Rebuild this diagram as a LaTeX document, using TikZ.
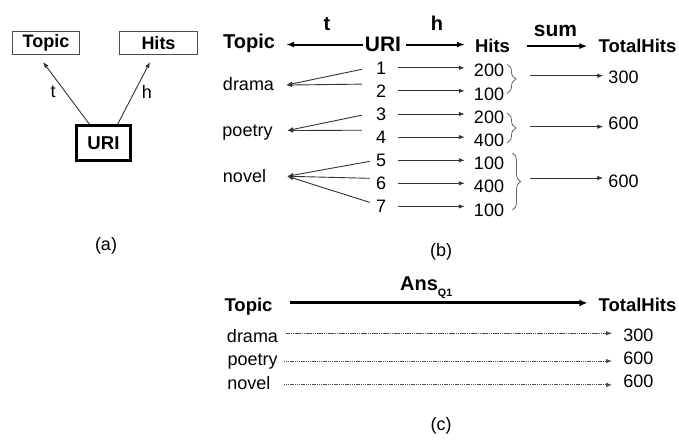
\documentclass[tikz,border=0pt]{standalone}
\usepackage{fontspec}
\setmainfont{Liberation Sans}
\usetikzlibrary{arrows.meta,calc,decorations.pathreplacing}

\begin{document}
\begin{tikzpicture}[x=1pt,y=-1pt,
  lbl/.style={inner sep=0pt, font=\fontsize{18}{20}\selectfont},
  hdr/.style={inner sep=0pt, font=\fontsize{18.5}{20}\selectfont\bfseries},
  bighdr/.style={inner sep=0pt, font=\fontsize{20}{22}\selectfont\bfseries},
  thin arrow/.style={draw=black!80, line width=0.9pt, -{Latex[length=6pt,width=4.5pt]}},
  bold arrow/.style={draw=black, line width=2pt, -{Latex[length=8pt,width=6pt]}},
  heavy arrow/.style={draw=black, line width=3pt, -{Latex[length=8pt,width=7pt]}},
  dotted arrow/.style={draw=black!70, line width=0.8pt, dash pattern=on 1.5pt off 0.7pt, -{Latex[length=6pt,width=4.5pt]}},
  rbrace/.style={draw=black!60, line width=0.8pt, decorate, decoration={brace, amplitude=#1}},
  attr box/.style={draw=black!70, line width=1.2pt, inner sep=0pt, font=\fontsize{18}{20}\selectfont\bfseries},
]
\useasboundingbox (0,0) rectangle (679,439);

% ---------- (a) schema ----------
\node[attr box, minimum width=66.8pt, minimum height=22.8pt] (topicA) at (46,43) {Topic};
\node[attr box, minimum width=77.8pt, minimum height=22.8pt] (hitsA) at (158.5,43) {Hits};
\node[draw=black, line width=3pt, inner sep=0pt, minimum width=54pt, minimum height=35pt,
      font=\fontsize{18.6}{20}\selectfont\bfseries] (uriA) at (103.5,143) {URI};
\draw[thin arrow] ($(uriA.north)!0.5!(uriA.north west)$) -- ($(topicA.south)+(-3,7)$);
\draw[thin arrow] ($(uriA.north)!0.5!(uriA.north east)$) -- ($(hitsA.south)+(-8.5,7)$);
\node[lbl] (tA) at (53,92) {t};
\node[lbl] (hA) at (147,92) {h};
\node[lbl] (capA) at (106,246) {(a)};

% ---------- (b) instance ----------
\node[bighdr, anchor=base] (topB) at (249,48.3) {Topic};
\node[inner sep=0pt, font=\fontsize{21}{22}\selectfont\bfseries, anchor=base] (uriB) at (383,51.7) {URI};
\node[hdr, anchor=base] (hitsB) at (492.5,52.7) {Hits};
\node[hdr, anchor=base] (totB) at (637.5,52.3) {TotalHits};
\node[bighdr, anchor=base] (tB) at (327,30) {t};
\node[bighdr, anchor=base] (hB) at (437,30.7) {h};
\node[inner sep=0pt, font=\fontsize{21}{22}\selectfont\bfseries, anchor=base] (sumB) at (555.5,36.7) {sum};

\draw[bold arrow, shorten <=2pt, shorten >=11pt] (uriB.west) -- (uriB.west -| topB.east);
\draw[bold arrow, shorten <=5pt, shorten >=10pt] (uriB.east) -- (uriB.east -| hitsB.west);
\draw[bold arrow, shorten <=17pt, shorten >=11pt] (hitsB.east) -- (hitsB.east -| totB.west);

\node[lbl, anchor=base] (drama) at (248.5,90.7) {drama};
\node[lbl, anchor=base] (poetry) at (247.5,136.7) {poetry};
\node[lbl, anchor=base] (novel) at (244.5,182.7) {novel};

\foreach \i/\y in {1/74,2/97.1,3/120.2,4/143.3,5/166.4,6/189.5,7/212.6}
  \node[lbl, anchor=base] (u\i) at (381,\y) {\i};
\foreach \i/\y/\v in {1/76.7/200,2/100/100,3/123/200,4/146/400,5/169.3/100,6/192.7/400,7/216/100}
  \node[lbl, anchor=base] (h\i) at (489,\y) {\v};

% URI -> Hits
\foreach \i in {1,...,7}
  \draw[thin arrow, shorten <=12pt, shorten >=9pt] (u\i.east) -- (u\i.east -| h\i.west);

% URI -> Topic
\coordinate (dramaTip) at ($(drama.east)+(12,0.8)$);
\coordinate (poetryTip) at ($(poetry.east)+(14.5,-2.2)$);
\coordinate (novelTip) at ($(novel.east)+(21,0)$);
\draw[thin arrow] ($(u1.west)+(-14,1.5)$) -- (dramaTip);
\draw[thin arrow] ($(u2.west)+(-14,-6.7)$) -- (dramaTip);
\draw[thin arrow] ($(u3.west)+(-14,1.2)$) -- (poetryTip);
\draw[thin arrow] ($(u4.west)+(-14,-6.9)$) -- (poetryTip);
\draw[thin arrow] ($(u5.west)+(-6,1)$) -- (novelTip);
\draw[thin arrow] ($(u6.west)+(-6,-5)$) -- (novelTip);
\draw[thin arrow] ($(u7.west)+(-6,-4)$) -- (novelTip);

% grouping braces and sums
\draw[rbrace=9pt] (507,64.5) -- (507,93.5);
\draw[rbrace=9pt] (507,113) -- (507,143);
\draw[rbrace=8pt] (512.5,153) -- (512.5,210);
\coordinate (bt1) at (530,75.7);
\coordinate (bt2) at (530,126.7);
\coordinate (bt3) at (530,178);

\node[lbl, anchor=base] (s1) at (623.5,83.3) {300};
\node[lbl, anchor=base] (s2) at (623.5,129) {600};
\node[lbl, anchor=base] (s3) at (623.5,187.7) {600};
\draw[thin arrow, shorten >=5pt] (bt1) -- (bt1 -| s1.west);
\draw[thin arrow, shorten >=5pt] (bt2) -- (bt2 -| s2.west);
\draw[thin arrow, shorten >=5pt] (bt3) -- (bt3 -| s3.west);

\node[lbl] (capB) at (441,252) {(b)};

% ---------- (c) answer ----------
\node[hdr, anchor=base] (topC) at (248.5,311.7) {Topic};
\node[hdr, anchor=base] (totC) at (637.5,311.7) {TotalHits};
\draw[heavy arrow, shorten <=17pt, shorten >=11pt]
  ($(topC.east)+(0,-4)$) -- ($(topC.east -| totC.west)+(0,-4)$);
\node[inner sep=0pt, anchor=base west, font=\fontsize{20}{22}\selectfont\bfseries] (ans)
  at (400,290.7) {Ans\raisebox{-5.3pt}{\fontsize{10.7}{12}\selectfont Q1}};

\node[lbl, anchor=base] (dramaC) at (252.5,342.7) {drama};
\node[lbl, anchor=base] (poetryC) at (252.7,365) {poetry};
\node[lbl, anchor=base] (novelC) at (248.8,389.3) {novel};
\node[lbl, anchor=base] (n1) at (638.3,341) {300};
\node[lbl, anchor=base] (n2) at (638.3,364.3) {600};
\node[lbl, anchor=base] (n3) at (638.3,387.7) {600};

\draw[dotted arrow, shorten <=8pt, shorten >=11pt]
  ($(dramaC.east)+(0,-3)$) -- ($(dramaC.east -| n1.west)+(0,-3)$);
\draw[dotted arrow, shorten <=5.6pt, shorten >=11pt]
  (poetryC.east) -- (poetryC.east -| n2.west);
\draw[dotted arrow, shorten <=13pt, shorten >=11pt]
  ($(novelC.east)+(0,2)$) -- ($(novelC.east -| n3.west)+(0,2)$);

\node[lbl] (capC) at (441,425.5) {(c)};
\end{tikzpicture}
\end{document}
